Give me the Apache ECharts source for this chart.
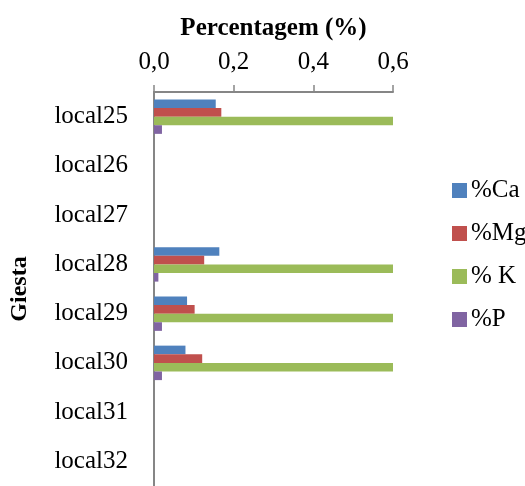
<!DOCTYPE html>
<html>
<head>
<meta charset="utf-8">
<script src="https://cdn.jsdelivr.net/npm/echarts@6/dist/echarts.min.js"></script>
<style>
  html, body { margin: 0; padding: 0; background: #ffffff; }
  #chart { width: 525px; height: 486px; }
</style>
</head>
<body>
<div id="chart"></div>
<script>
// Sampling sites (Giesta) and nutrient percentages per site
const sites = ['local25', 'local26', 'local27', 'local28', 'local29', 'local30', 'local31', 'local32'];
const seriesNames = ['%Ca', '%Mg', '% K', '%P'];
const ca = [0.155, null, null, 0.164, 0.083, 0.079, null, null];
const mg = [0.169, null, null, 0.126, 0.102, 0.121, null, null];
const k  = [0.6,   null, null, 0.6,   0.6,   0.6,   null, null];
const p  = [0.020, null, null, 0.011, 0.020, 0.020, null, null];
const xTicks = [0, 0.2, 0.4, 0.6];

const colors = ['#4F81BD', '#C0504D', '#9BBB59', '#8064A2'];
const serif = '"Liberation Serif", "Times New Roman", serif';
const axisGrey = '#868686';

const chart = echarts.init(document.getElementById('chart'), null, { renderer: 'canvas' });

const values = [ca, mg, k, p];

chart.setOption({
  animation: false,
  color: colors,
  textStyle: { fontFamily: serif },
  grid: { left: 154, top: 92, width: 239, height: 398, containLabel: false },
  legend: {
    orient: 'vertical',
    left: 447,
    top: 173,
    itemWidth: 15,
    itemHeight: 15,
    itemGap: 18,
    icon: 'rect',
    data: seriesNames,
    textStyle: { fontFamily: serif, fontSize: 25, color: '#000', lineHeight: 25, padding: [0, 0, 0, -1] }
  },
  xAxis: {
    type: 'value',
    position: 'top',
    min: xTicks[0],
    max: xTicks[xTicks.length - 1],
    interval: 0.2,
    name: 'Percentagem (%)',
    nameLocation: 'middle',
    nameGap: 51,
    nameTextStyle: { fontFamily: serif, fontSize: 25, fontWeight: 'bold', color: '#000' },
    axisLine: { show: true, lineStyle: { color: axisGrey, width: 2 } },
    axisTick: { show: true, length: 7, lineStyle: { color: axisGrey, width: 1.5 } },
    splitLine: { show: false },
    axisLabel: {
      margin: 17,
      fontFamily: serif,
      fontSize: 25,
      color: '#000',
      formatter: v => v.toFixed(1).replace('.', ',')
    }
  },
  yAxis: {
    type: 'category',
    data: sites,
    inverse: true,
    name: 'Giesta',
    nameLocation: 'middle',
    nameGap: 122,
    nameRotate: 90,
    nameTextStyle: { fontFamily: serif, fontSize: 24, fontWeight: 'bold', color: '#000' },
    axisLine: { show: true, lineStyle: { color: axisGrey, width: 2 } },
    axisTick: { show: false },
    splitLine: { show: false },
    axisLabel: { margin: 26, fontFamily: serif, fontSize: 25, color: '#000' }
  },
  series: seriesNames.map((name, i) => ({
    name: name,
    type: 'bar',
    data: values[i],
    barGap: '0%',
    barCategoryGap: '30%',
    itemStyle: { color: colors[i] }
  }))
});
</script>
</body>
</html>
